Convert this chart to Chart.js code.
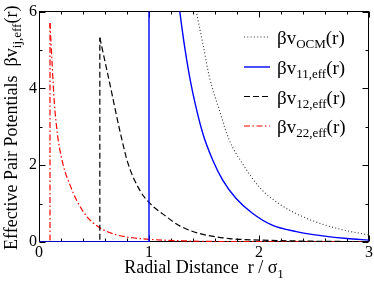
<!DOCTYPE html>
<html><head><meta charset="utf-8">
<script src="https://cdn.jsdelivr.net/npm/chart.js@4.4.0/dist/chart.umd.min.js"></script>
<style>html,body{margin:0;padding:0;background:#fff}canvas{display:block}</style>
</head><body>
<canvas id="c" width="374" height="281"></canvas>
<script>
// ---- data ----
const xMin = 0, xMax = 3, xStep = 1, xMinor = 0.2;
const yMin = 0, yMax = 6, yStep = 2, yMinor = 1;

const rOCM = [1.40, 1.43, 1.49, 1.55, 1.64, 1.73, 1.85, 2.00, 2.18, 2.43, 2.70, 3.00];
const vOCM = [6.45, 6.00, 5.16, 4.29, 3.43, 2.65, 2.04, 1.44, 1.00, 0.62, 0.36, 0.18];

const r11Core = [0, 1.0, 1.0];
const v11Core = [0, 0, 8];
const r11 = [1.25, 1.28, 1.32, 1.36, 1.40, 1.49, 1.58, 1.67, 1.79, 1.94, 2.12, 2.34, 2.58, 2.80, 3.00];
const v11 = [6.70, 6.00, 5.16, 4.45, 3.86, 2.82, 2.13, 1.61, 1.14, 0.75, 0.44, 0.27, 0.16, 0.09, 0.05];

const r12Core = [0, 0.553, 0.553];
const v12Core = [0, 0, 5.32];
const r12 = [0.553, 0.644, 0.734, 0.81, 0.916, 1.0, 1.158, 1.28, 1.46, 1.73, 2.0, 2.5, 3.0];
const v12 = [5.32, 4.12, 2.91, 2.04, 1.35, 1.03, 0.66, 0.42, 0.22, 0.09, 0.05, 0.02, 0.01];

const r22Core = [0, 0.1, 0.1];
const v22Core = [0, 0, 5.7];
const r22 = [0.1, 0.12, 0.14, 0.16, 0.175, 0.22, 0.28, 0.34, 0.43, 0.553, 0.70, 0.85, 1.0, 1.37, 2.0, 3.0];
const v22 = [5.7, 4.6, 3.6, 3.0, 2.65, 2.0, 1.5, 1.1, 0.68, 0.37, 0.19, 0.11, 0.07, 0.025, 0.008, 0.0];

const legendSubs = ['OCM', '11,eff', '12,eff', '22,eff'];
const xTitle = ['Radial Distance  r / σ', '1'];
const yTitle = ['Effective Pair Potentials  βv', 'ij,eff', '(r)'];

// ---- styles ----
const SERIF = "'Liberation Serif','Times New Roman',serif";
const styles = [
  {color: '#333', width: 1.1, dash: [1, 2.3]},
  {color: '#0000ff', width: 1.4, dash: []},
  {color: '#000', width: 1.2, dash: [6, 3]},
  {color: '#ff0000', width: 1.2, dash: [6, 2.5, 1.5, 2.5]}
];
const pts = (xs, ys) => xs.map((x, i) => ({x, y: ys[i]}));
function ds(xs, ys, st, smooth) {
  return {data: pts(xs, ys), showLine: true, pointRadius: 0, borderColor: st.color,
    borderWidth: st.width, borderDash: st.dash, fill: false,
    cubicInterpolationMode: smooth ? 'monotone' : 'default', tension: 0};
}

function drawRich(ctx, parts, x, y, size, subSize, shift) {
  let cx = x;
  parts.forEach((p, i) => {
    const sub = p.sub;
    ctx.font = (sub ? subSize : size) + 'px ' + SERIF;
    ctx.fillText(p.t, cx, sub ? y + shift : y);
    cx += ctx.measureText(p.t).width;
  });
  return cx - x;
}
function richWidth(ctx, parts, size, subSize) {
  let w = 0;
  parts.forEach(p => { ctx.font = (p.sub ? subSize : size) + 'px ' + SERIF; w += ctx.measureText(p.t).width; });
  return w;
}

const framePlugin = {
  id: 'frame',
  beforeDatasetsDraw(chart) {
    const {ctx, chartArea: a, scales: {x, y}} = chart;
    ctx.save();
    ctx.strokeStyle = '#000';
    ctx.lineWidth = 1;
    const L = Math.floor(a.left) + 0.5, R = Math.floor(a.right) - 0.5;
    const T = Math.floor(a.top) + 0.5, B = Math.floor(a.bottom) - 0.5;
    ctx.beginPath();
    for (let v = xMin; v <= xMax + 1e-9; v += xMinor) {
      const major = Math.abs(v / xStep - Math.round(v / xStep)) < 1e-6;
      const len = major ? 6 : 3;
      const px = Math.round(x.getPixelForValue(v)) + 0.5;
      ctx.moveTo(px, B); ctx.lineTo(px, B - len);
      ctx.moveTo(px, T); ctx.lineTo(px, T + len);
    }
    for (let v = yMin; v <= yMax + 1e-9; v += yMinor) {
      const major = Math.abs(v / yStep - Math.round(v / yStep)) < 1e-6;
      const len = major ? 6 : 3;
      const py = Math.round(y.getPixelForValue(v)) + 0.5;
      ctx.moveTo(L, py); ctx.lineTo(L + len, py);
      ctx.moveTo(R, py); ctx.lineTo(R - len, py);
    }
    ctx.stroke();
    ctx.strokeRect(L, T, R - L, B - T);
    ctx.restore();
  },
  afterDraw(chart) {
    const {ctx, chartArea: a} = chart;
    ctx.save();
    ctx.fillStyle = '#000';
    ctx.textBaseline = 'alphabetic';
    ctx.textAlign = 'left';
    // x title
    const xp = [{t: xTitle[0]}, {t: xTitle[1], sub: true}];
    const xw = richWidth(ctx, xp, 18, 13);
    drawRich(ctx, xp, (a.left + a.right) / 2 - xw / 2, 272.5, 18, 13, 5);
    // y title
    const yp = [{t: yTitle[0]}, {t: yTitle[1], sub: true}, {t: yTitle[2]}];
    const yw = richWidth(ctx, yp, 18, 13);
    ctx.translate(17, (a.top + a.bottom) / 2 + 1);
    ctx.rotate(-Math.PI / 2);
    drawRich(ctx, yp, -yw / 2, 0, 18, 13, 4);
    ctx.restore();
    // legend
    ctx.save();
    const rows = [37, 67, 96.5, 126];
    styles.forEach((st, i) => {
      const yy = rows[i];
      ctx.strokeStyle = st.color; ctx.lineWidth = st.width; ctx.setLineDash(st.dash);
      ctx.beginPath(); ctx.moveTo(244, yy); ctx.lineTo(270, yy); ctx.stroke();
      ctx.setLineDash([]);
      ctx.fillStyle = '#000';
      drawRich(ctx, [{t: 'βv'}, {t: legendSubs[i], sub: true}, {t: '(r)'}], 277, yy + 7, 19, 13, 4);
    });
    ctx.restore();
  }
};

const tickFont = {family: SERIF, size: 16};
new Chart(document.getElementById('c'), {
  type: 'scatter',
  data: {datasets: [
    ds(rOCM, vOCM, styles[0], true),
    ds(r11Core, v11Core, styles[1], false),
    ds(r11, v11, styles[1], true),
    ds(r12Core, v12Core, styles[2], false),
    ds(r12, v12, styles[2], true),
    ds(r22Core, v22Core, styles[3], false),
    ds(r22, v22, styles[3], true)
  ]},
  options: {
    responsive: false, animation: false, devicePixelRatio: 1,
    layout: {padding: {top: 11, right: 4, left: 0, bottom: 0}},
    plugins: {legend: {display: false}, tooltip: {enabled: false}},
    scales: {
      x: {type: 'linear', min: xMin, max: xMax,
        ticks: {stepSize: xStep, font: tickFont, color: '#000', padding: 1, maxRotation: 0},
        grid: {display: false, drawTicks: false}, border: {display: false},
        afterFit: s => { s.height = 39; }},
      y: {type: 'linear', min: yMin, max: yMax,
        ticks: {stepSize: yStep, font: tickFont, color: '#000', padding: 2},
        grid: {display: false, drawTicks: false}, border: {display: false},
        afterFit: s => { s.width = 39; }}
    }
  },
  plugins: [framePlugin]
});
</script>
</body></html>
